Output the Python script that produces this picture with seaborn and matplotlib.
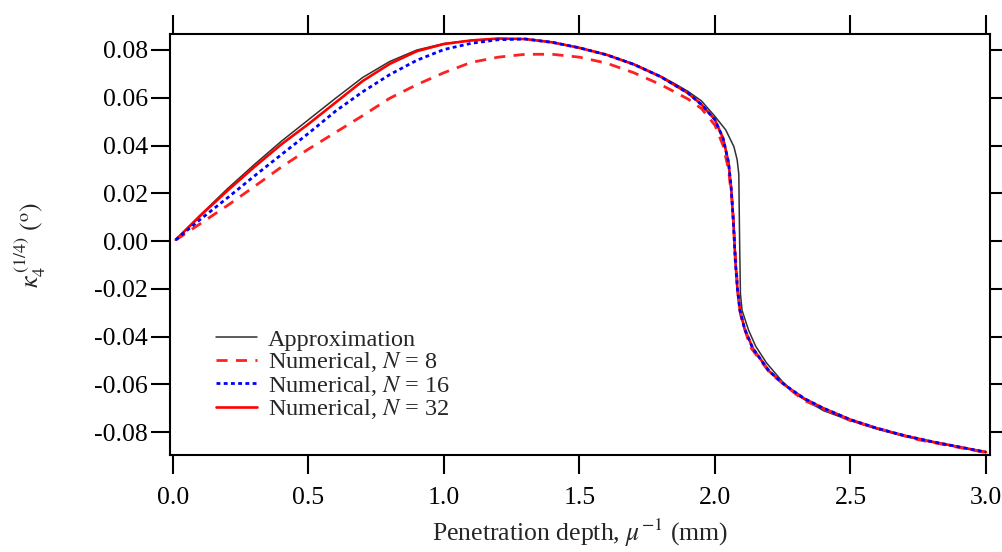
import numpy as np
import pandas as pd
import matplotlib
matplotlib.use("Agg")
import matplotlib.pyplot as plt
import seaborn as sns

# ---- data ----
x_approx = [0.01, 0.1, 0.2, 0.3, 0.4, 0.5, 0.6, 0.7, 0.8, 0.9, 1.0, 1.1, 1.2, 1.3, 1.4,
            1.5, 1.6, 1.7, 1.8, 1.85, 1.9, 1.95, 2.0, 2.04, 2.07, 2.082, 2.088, 2.091,
            2.094, 2.1, 2.124, 2.15, 2.19, 2.25, 2.31, 2.4, 2.5, 2.6, 2.7, 2.8, 2.9, 3.0]
y_approx = [0.0005, 0.0108, 0.0218, 0.0320, 0.0418, 0.0508, 0.0598, 0.0685, 0.0752, 0.0800,
            0.0827, 0.0840, 0.0848, 0.0846, 0.0833, 0.0810, 0.0780, 0.0742, 0.0690, 0.0660,
            0.0627, 0.0587, 0.0522, 0.0465, 0.0395, 0.0340, 0.0280, 0.0, -0.0220, -0.0290,
            -0.0373, -0.0440, -0.0510, -0.0590, -0.0650, -0.0710, -0.0752, -0.0788, -0.0818,
            -0.0843, -0.0863, -0.0882]

x_n8 = [0.01, 0.1, 0.2, 0.3, 0.4, 0.5, 0.6, 0.7, 0.8, 0.9, 1.0, 1.1, 1.2, 1.3, 1.4,
        1.5, 1.6, 1.7, 1.8, 1.9, 1.95, 2.0, 2.03, 2.05, 2.065, 2.075, 2.085, 2.095,
        2.13, 2.204, 2.326, 2.5, 2.75, 3.0]
y_n8 = [0.0004, 0.0072, 0.0148, 0.0228, 0.0310, 0.0385, 0.0455, 0.0525, 0.0598, 0.0655,
        0.0705, 0.0748, 0.0770, 0.0782, 0.0782, 0.0770, 0.0745, 0.0705, 0.0655, 0.0595,
        0.0555, 0.0485, 0.0400, 0.0300, 0.0150, -0.0050, -0.0220, -0.0310, -0.0443,
        -0.0554, -0.0666, -0.0752, -0.0832, -0.0886]

x_n16 = [0.01, 0.1, 0.2, 0.3, 0.4, 0.5, 0.6, 0.7, 0.8, 0.9, 1.0, 1.1, 1.2, 1.3, 1.4,
         1.5, 1.6, 1.7, 1.8, 1.9, 1.95, 2.0, 2.03, 2.05, 2.06, 2.068, 2.075, 2.083,
         2.092, 2.11, 2.14, 2.2, 2.26, 2.33, 2.4, 2.5, 2.6, 2.7, 2.8, 2.9, 3.0]
y_n16 = [0.0005, 0.0090, 0.0180, 0.0272, 0.0362, 0.0451, 0.0544, 0.0625, 0.0697, 0.0757,
         0.0802, 0.0828, 0.0843, 0.0846, 0.0832, 0.0809, 0.0780, 0.0740, 0.0688, 0.0620,
         0.0572, 0.0508, 0.0430, 0.0330, 0.0220, 0.0080, -0.0080, -0.0200, -0.0290,
         -0.0370, -0.0450, -0.0545, -0.0605, -0.0660, -0.0700, -0.0748, -0.0785, -0.0815,
         -0.0840, -0.0862, -0.0884]

x_n32 = x_n16
y_n32 = [0.0005, 0.0105, 0.0210, 0.0310, 0.0405, 0.0490, 0.0580, 0.0670, 0.0742, 0.0795,
         0.0825, 0.0840, 0.0848, 0.0846, 0.0832, 0.0809, 0.0780, 0.0740, 0.0688, 0.0620,
         0.0572, 0.0508, 0.0430, 0.0330, 0.0220, 0.0080, -0.0080, -0.0200, -0.0290,
         -0.0370, -0.0450, -0.0545, -0.0605, -0.0660, -0.0700, -0.0748, -0.0785, -0.0815,
         -0.0840, -0.0862, -0.0884]

labels = ["Approximation", r"Numerical, $N$ = 8", r"Numerical, $N$ = 16", r"Numerical, $N$ = 32"]
x_ticks = [0.0, 0.5, 1.0, 1.5, 2.0, 2.5, 3.0]
y_ticks = [-0.08, -0.06, -0.04, -0.02, 0.00, 0.02, 0.04, 0.06, 0.08]

# ---- style ----
sns.set_style("ticks")
plt.rcParams["font.family"] = ["Liberation Serif", "DejaVu Serif"]
plt.rcParams["mathtext.fontset"] = "stix"
FS = 18.5

fig = plt.figure(figsize=(10.02, 5.52), dpi=100)
ax = fig.add_axes([170 / 1002, 1 - 455 / 552, 820 / 1002, 421 / 552])

df_a = pd.DataFrame({"x": x_approx, "y": y_approx})
df_8 = pd.DataFrame({"x": x_n8, "y": y_n8})
df_16 = pd.DataFrame({"x": x_n16, "y": y_n16})
df_32 = pd.DataFrame({"x": x_n32, "y": y_n32})

sns.lineplot(data=df_a, x="x", y="y", ax=ax, color="#303030", lw=1.1, label=labels[0],
             sort=False, estimator=None)
sns.lineplot(data=df_32, x="x", y="y", ax=ax, color="#ff0000", lw=1.9, label=labels[3],
             sort=False, estimator=None)
sns.lineplot(data=df_8, x="x", y="y", ax=ax, color="#ff2020", lw=2.0, label=labels[1],
             sort=False, estimator=None)
sns.lineplot(data=df_16, x="x", y="y", ax=ax, color="#0000ff", lw=2.0, label=labels[2],
             sort=False, estimator=None)
lines = ax.get_lines()
lines[2].set_dashes((4.0, 3.0))
lines[3].set_dashes((1.4, 1.2))

ax.set_xlim(-0.011, 3.015)
ax.set_ylim(-0.0896, 0.0867)
ax.set_xticks(x_ticks)
ax.set_xticklabels([f"{v:.1f}" for v in x_ticks])
ax.set_yticks(y_ticks)
ax.set_yticklabels([f"{v:.2f}" for v in y_ticks])

for s in ax.spines.values():
    s.set_visible(True)
    s.set_linewidth(1.5)
    s.set_color("black")
ax.tick_params(axis="both", direction="out", length=14, width=1.5, labelsize=FS,
               colors="black", top=True, right=True)
ax.tick_params(axis="x", pad=9)
ax.tick_params(axis="y", pad=2)

ax.set_xlabel(r"Penetration depth, $\mu^{-1}$ (mm)", fontsize=FS, labelpad=6)
ax.set_ylabel(r"$\kappa_4^{\,(1/4)}\ (^{\mathrm{o}})$", fontsize=FS)
ax.yaxis.set_label_coords(-0.149, 0.5)

h, l = ax.get_legend_handles_labels()
order = [labels.index(t) for t in l]
pairs = sorted(zip(order, h, l))
leg = ax.legend([p[1] for p in pairs], [p[2] for p in pairs], loc="upper left",
                bbox_to_anchor=(0.056, 0.300), frameon=False, fontsize=17.5,
                handlelength=1.7, handletextpad=0.45, labelspacing=-0.02,
                borderpad=0, borderaxespad=0)

fig.savefig("out.png", dpi=100)
